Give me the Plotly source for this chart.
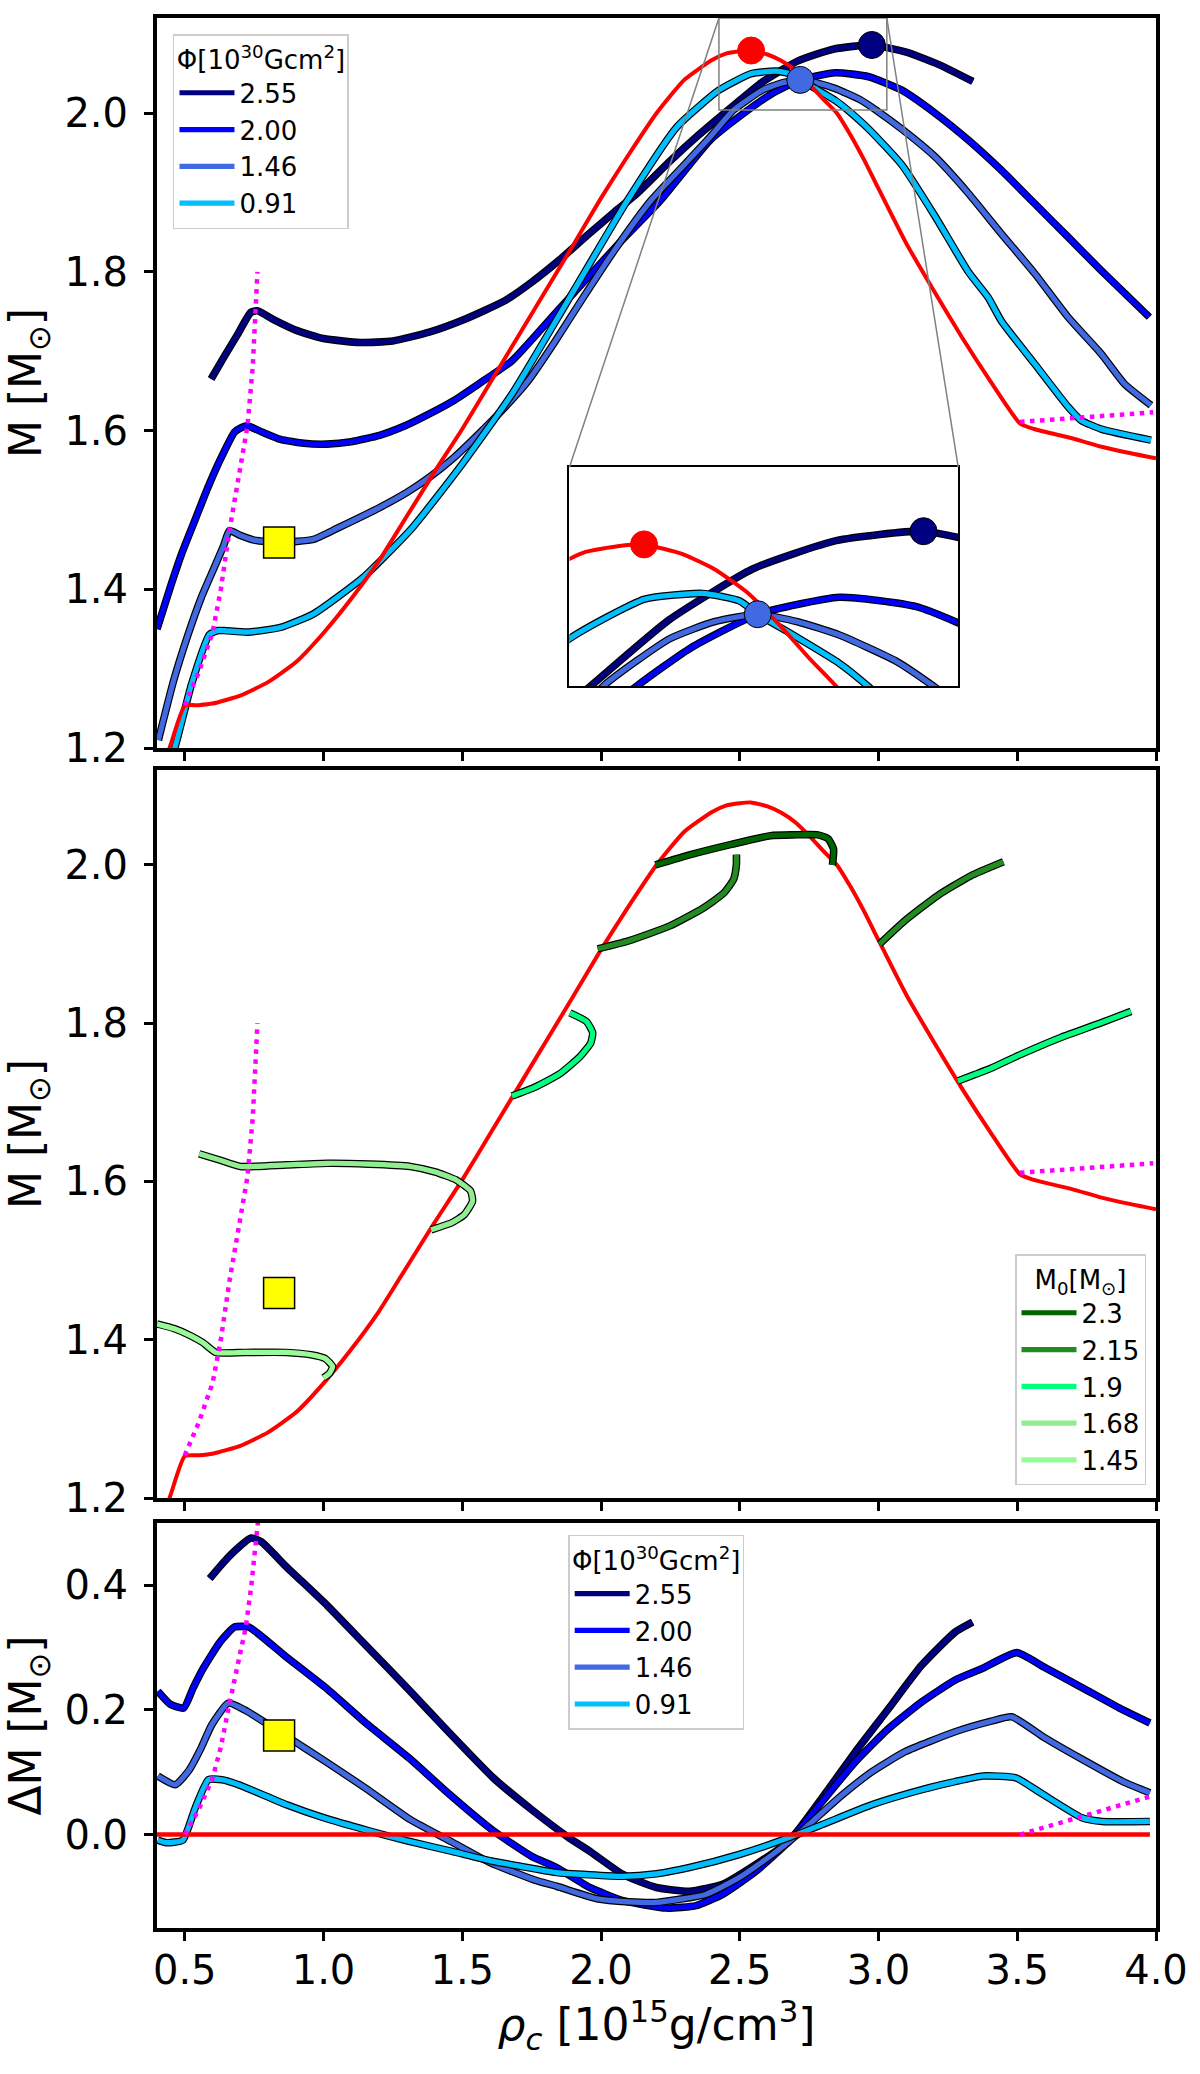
import plotly.graph_objects as go

# ---------------- data ----------------
# non-magnetised sequence (Phi = 0)
red_x = [0.43, 0.45, 0.50, 0.55, 0.60, 0.70, 0.80, 0.90, 1.00, 1.10, 1.20, 1.30, 1.40, 1.50, 1.60,
         1.70, 1.80, 1.90, 2.00, 2.10, 2.20, 2.30, 2.40, 2.45, 2.50, 2.54, 2.60, 2.65, 2.70, 2.75,
         2.80, 2.85, 2.90, 2.95, 3.00, 3.10, 3.20, 3.30, 3.40, 3.51, 3.56, 3.70, 3.80, 3.90, 4.00]
red_y = [1.185, 1.205, 1.253, 1.254, 1.256, 1.266, 1.283, 1.308, 1.345, 1.388, 1.436, 1.492, 1.548,
         1.602, 1.660, 1.718, 1.776, 1.834, 1.893, 1.948, 2.000, 2.042, 2.067, 2.075, 2.078, 2.079,
         2.074, 2.066, 2.054, 2.037, 2.018, 2.000, 1.972, 1.940, 1.905, 1.836, 1.776, 1.718, 1.664,
         1.609, 1.602, 1.590, 1.580, 1.572, 1.565]

# magnetised sequences, M vs rho_c
phi_labels = ["2.55", "2.00", "1.46", "0.91"]
phi_colors = ["#000080", "#0000FF", "#4169E1", "#00BFFF"]

m_255_x = [0.595, 0.64, 0.69, 0.738, 0.762, 0.82, 0.905, 1.0, 1.131, 1.25, 1.381, 1.5, 1.655, 1.75,
           1.85, 1.95, 2.05, 2.13, 2.25, 2.35, 2.465, 2.58, 2.71, 2.84, 2.976, 3.1, 3.17, 3.226, 3.34]
m_255_y = [1.665, 1.692, 1.721, 1.749, 1.751, 1.740, 1.726, 1.716, 1.711, 1.713, 1.724, 1.739, 1.764,
           1.787, 1.815, 1.846, 1.876, 1.899, 1.940, 1.972, 2.006, 2.039, 2.066, 2.081, 2.086, 2.077,
           2.068, 2.060, 2.040]

m_200_x = [0.40, 0.45, 0.488, 0.54, 0.583, 0.63, 0.679, 0.705, 0.726, 0.78, 0.845, 0.93, 1.012, 1.1,
           1.202, 1.3, 1.381, 1.47, 1.56, 1.679, 1.833, 1.95, 2.07, 2.214, 2.393, 2.53, 2.613, 2.718,
           2.845, 2.965, 3.084, 3.204, 3.324, 3.443, 3.563, 3.683, 3.802, 3.976]
m_200_y = [1.35, 1.405, 1.444, 1.490, 1.528, 1.565, 1.598, 1.604, 1.606, 1.598, 1.589, 1.584, 1.583,
           1.586, 1.594, 1.607, 1.621, 1.638, 1.659, 1.688, 1.747, 1.792, 1.838, 1.890, 1.966, 2.004,
           2.024, 2.042, 2.051, 2.046, 2.029, 2.000, 1.966, 1.928, 1.886, 1.844, 1.802, 1.743]

m_146_x = [0.405, 0.46, 0.512, 0.56, 0.607, 0.64, 0.661, 0.70, 0.75, 0.845, 0.964, 1.05, 1.202, 1.3,
           1.381, 1.47, 1.56, 1.65, 1.738, 1.83, 1.929, 2.05, 2.18, 2.3, 2.393, 2.478, 2.581, 2.65,
           2.718, 2.78, 2.845, 2.934, 2.991, 3.084, 3.204, 3.324, 3.443, 3.563, 3.683, 3.802, 3.886,
           3.982]
m_146_y = [1.21, 1.285, 1.343, 1.390, 1.428, 1.455, 1.474, 1.468, 1.462, 1.459, 1.463, 1.477, 1.503,
           1.522, 1.541, 1.566, 1.596, 1.628, 1.663, 1.710, 1.764, 1.828, 1.890, 1.935, 1.970, 2.004,
           2.029, 2.038, 2.042, 2.038, 2.031, 2.017, 2.004, 1.980, 1.945, 1.899, 1.848, 1.798, 1.743,
           1.697, 1.659, 1.632]

m_091_x = [0.43, 0.464, 0.524, 0.589, 0.62, 0.643, 0.726, 0.845, 0.964, 1.143, 1.321, 1.5, 1.679,
           1.881, 2.095, 2.274, 2.425, 2.542, 2.632, 2.69, 2.718, 2.773, 2.845, 2.889, 2.965, 3.084,
           3.204, 3.324, 3.395, 3.443, 3.563, 3.683, 3.73, 3.802, 3.982]
m_091_y = [1.17, 1.20, 1.28, 1.343, 1.348, 1.348, 1.346, 1.352, 1.369, 1.415, 1.478, 1.558, 1.646,
           1.764, 1.890, 1.983, 2.029, 2.050, 2.053, 2.049, 2.042, 2.031, 2.016, 2.004, 1.980, 1.935,
           1.870, 1.800, 1.768, 1.738, 1.684, 1.630, 1.613, 1.602, 1.588]

# maximum-mass markers
peak_x = [2.541, 2.976, 2.718]
peak_y = [2.079, 2.086, 2.042]
peak_colors = ["#FF0000", "#000080", "#4169E1"]

# onset line (magenta dotted)
mag_m_x = [0.50, 0.55, 0.60, 0.63, 0.661, 0.69, 0.726, 0.745, 0.755, 0.762]
mag_m_y = [1.254, 1.295, 1.345, 1.40, 1.474, 1.535, 1.606, 1.68, 1.75, 1.80]
mag_m_right_x = [3.51, 3.99]
mag_m_right_y = [1.611, 1.623]

# yellow square
sq_x = [0.84]
sq_m = [1.459]
sq_dm = [0.159]

# constant baryonic mass tracks (middle panel)
m0_labels = ["2.3", "2.15", "1.9", "1.68", "1.45"]
m0_colors = ["#006400", "#228B22", "#00FF7F", "#90EE90", "#98FB98"]

m0_230_x = [2.196, 2.322, 2.47, 2.611, 2.693, 2.782, 2.819, 2.838, 2.834]
m0_230_y = [2.000, 2.013, 2.026, 2.037, 2.038, 2.038, 2.033, 2.020, 2.000]
m0_215a_x = [1.988, 2.099, 2.248, 2.366, 2.441, 2.478, 2.488, 2.488]
m0_215a_y = [1.894, 1.904, 1.923, 1.945, 1.964, 1.982, 2.001, 2.013]
m0_215b_x = [3.004, 3.093, 3.212, 3.331, 3.45]
m0_215b_y = [1.900, 1.929, 1.961, 1.986, 2.004]
m0_190a_x = [1.679, 1.761, 1.851, 1.925, 1.963, 1.970, 1.948, 1.888]
m0_190a_y = [1.708, 1.719, 1.736, 1.758, 1.775, 1.788, 1.802, 1.813]
m0_190b_x = [3.286, 3.346, 3.405, 3.509, 3.657, 3.806, 3.91]
m0_190b_y = [1.727, 1.735, 1.743, 1.760, 1.782, 1.801, 1.815]
m0_168_x = [0.552, 0.627, 0.701, 0.866, 1.015, 1.164, 1.313, 1.403, 1.478, 1.53, 1.537, 1.507,
            1.463, 1.388]
m0_168_y = [1.635, 1.627, 1.619, 1.621, 1.623, 1.622, 1.619, 1.612, 1.602, 1.588, 1.575, 1.558,
            1.548, 1.539]
m0_145_x = [0.40, 0.463, 0.522, 0.567, 0.612, 0.716, 0.866, 0.955, 1.007, 1.033, 1.022, 1.0]
m0_145_y = [1.420, 1.414, 1.405, 1.396, 1.384, 1.384, 1.384, 1.381, 1.376, 1.366, 1.358, 1.352]

# mass difference to the Phi = 0 sequence (bottom panel)
dm_zero_x = [0.40, 3.978]
dm_zero_y = [0.0, 0.0]

dm_255_x = [0.59, 0.63, 0.672, 0.739, 0.776, 0.866, 1.015, 1.15, 1.313, 1.45, 1.612, 1.75, 1.881,
            1.96, 2.079, 2.199, 2.319, 2.438, 2.558, 2.677, 2.797, 2.917, 3.036, 3.156, 3.276, 3.339]
dm_255_y = [0.411, 0.432, 0.452, 0.476, 0.470, 0.430, 0.367, 0.305, 0.230, 0.165, 0.091, 0.040,
            -0.004, -0.027, -0.064, -0.085, -0.091, -0.080, -0.048, -0.011, 0.059, 0.133, 0.202,
            0.272, 0.325, 0.341]

dm_200_x = [0.403, 0.448, 0.496, 0.53, 0.567, 0.627, 0.679, 0.731, 0.866, 1.015, 1.15, 1.313, 1.45,
            1.612, 1.75, 1.84, 1.96, 2.079, 2.235, 2.343, 2.438, 2.558, 2.677, 2.797, 2.917, 3.036,
            3.156, 3.276, 3.376, 3.498, 3.6, 3.733, 3.881, 3.978]
dm_200_y = [0.230, 0.209, 0.203, 0.235, 0.267, 0.309, 0.333, 0.333, 0.285, 0.233, 0.180, 0.121,
            0.066, 0.006, -0.035, -0.053, -0.085, -0.106, -0.118, -0.114, -0.096, -0.059, -0.011,
            0.053, 0.117, 0.170, 0.213, 0.248, 0.267, 0.292, 0.268, 0.236, 0.200, 0.179]

dm_146_x = [0.403, 0.466, 0.515, 0.56, 0.597, 0.657, 0.716, 0.866, 1.015, 1.15, 1.313, 1.463, 1.6,
            1.761, 1.84, 1.985, 2.1, 2.199, 2.378, 2.498, 2.618, 2.737, 2.857, 2.977, 3.096, 3.276,
            3.406, 3.48, 3.6, 3.733, 3.881, 3.978]
dm_146_y = [0.094, 0.080, 0.103, 0.140, 0.176, 0.211, 0.200, 0.158, 0.115, 0.075, 0.024, -0.012,
            -0.045, -0.073, -0.083, -0.103, -0.108, -0.109, -0.096, -0.069, -0.032, 0.011, 0.059,
            0.101, 0.133, 0.165, 0.182, 0.189, 0.155, 0.121, 0.085, 0.067]

dm_091_x = [0.403, 0.433, 0.493, 0.537, 0.585, 0.634, 0.70, 0.866, 1.0, 1.164, 1.3, 1.463, 1.6,
            1.761, 1.84, 2.079, 2.2, 2.319, 2.498, 2.677, 2.797, 2.977, 3.156, 3.276, 3.376, 3.495,
            3.584, 3.733, 3.807, 3.978]
dm_091_y = [-0.009, -0.013, -0.009, 0.042, 0.088, 0.088, 0.079, 0.048, 0.027, 0.006, -0.010, -0.027,
            -0.042, -0.055, -0.061, -0.067, -0.063, -0.053, -0.032, -0.005, 0.016, 0.048, 0.072,
            0.085, 0.094, 0.091, 0.067, 0.027, 0.021, 0.021]

mag_dm_x = [0.50, 0.55, 0.60, 0.63, 0.661, 0.69, 0.72, 0.74, 0.755, 0.768]
mag_dm_y = [0.0, 0.040, 0.090, 0.140, 0.210, 0.270, 0.333, 0.400, 0.460, 0.520]
mag_dm_right_x = [3.51, 3.978]
mag_dm_right_y = [0.0, 0.061]

# ---------------- geometry ----------------
X_RANGE = [0.4, 4.0]
X_DOMAIN = [0.0, 1.0]
Y1_RANGE = [1.2, 2.12]
Y1_DOMAIN = [0.6178, 1.0]
Y2_DOMAIN = [0.2251, 0.6063]
Y3_RANGE = [-0.15, 0.5]
Y3_DOMAIN = [0.0, 0.2120]
INSET_X = [2.425, 3.03]
INSET_Y = [2.004, 2.12]
INSET_XDOM = [0.4129, 0.802]
INSET_YDOM = [0.6503, 0.7649]

SMOOTH = 0.5
fig = go.Figure()


def outlined(x, y, color, xa, ya, name=None, legend=None, width=5.2):
    fig.add_trace(go.Scatter(
        x=x, y=y, mode="lines", xaxis=xa, yaxis=ya,
        line=dict(color="black", width=width + 2.4, shape="spline", smoothing=SMOOTH),
        showlegend=False, hoverinfo="skip"))
    fig.add_trace(go.Scatter(
        x=x, y=y, mode="lines", xaxis=xa, yaxis=ya, name=name,
        line=dict(color=color, width=width, shape="spline", smoothing=SMOOTH),
        showlegend=legend is not None, legend=legend if legend else "legend"))


def plain(x, y, color, xa, ya, width=4.0, dash=None):
    fig.add_trace(go.Scatter(
        x=x, y=y, mode="lines", xaxis=xa, yaxis=ya,
        line=dict(color=color, width=width, dash=dash,
                  shape="linear" if dash else "spline", smoothing=SMOOTH),
        showlegend=False, hoverinfo="skip"))


def square(x, y, xa, ya):
    fig.add_trace(go.Scatter(
        x=x, y=y, mode="markers", xaxis=xa, yaxis=ya, showlegend=False,
        marker=dict(symbol="square", size=31, color="yellow", line=dict(color="black", width=1.5))))


mag_dash = "4.5px,5.5px"
m_series = [(m_255_x, m_255_y), (m_200_x, m_200_y), (m_146_x, m_146_y), (m_091_x, m_091_y)]
dm_series = [(dm_255_x, dm_255_y), (dm_200_x, dm_200_y), (dm_146_x, dm_146_y), (dm_091_x, dm_091_y)]

# ---- top panel ----
for (sx, sy), c, lab in zip(m_series, phi_colors, phi_labels):
    outlined(sx, sy, c, "x", "y", name=lab, legend="legend")
plain(red_x, red_y, "#FF0000", "x", "y")
plain(mag_m_x, mag_m_y, "#FF00FF", "x", "y", width=4.5, dash=mag_dash)
plain(mag_m_right_x, mag_m_right_y, "#FF00FF", "x", "y", width=4.5, dash=mag_dash)
square(sq_x, sq_m, "x", "y")

# ---- inset ----
for (sx, sy), c in zip(m_series, phi_colors):
    outlined(sx, sy, c, "x4", "y4")
plain(red_x, red_y, "#FF0000", "x4", "y4")

for xa, ya in [("x", "y"), ("x4", "y4")]:
    fig.add_trace(go.Scatter(
        x=peak_x, y=peak_y, mode="markers", xaxis=xa, yaxis=ya, showlegend=False,
        marker=dict(size=27, color=peak_colors,
                    line=dict(color=["#FF0000", "black", "black"], width=1))))

# ---- middle panel ----
plain(red_x, red_y, "#FF0000", "x2", "y2")
m0_tracks = [
    [(m0_230_x, m0_230_y)],
    [(m0_215a_x, m0_215a_y), (m0_215b_x, m0_215b_y)],
    [(m0_190a_x, m0_190a_y), (m0_190b_x, m0_190b_y)],
    [(m0_168_x, m0_168_y)],
    [(m0_145_x, m0_145_y)],
]
for branches, c, lab in zip(m0_tracks, m0_colors, m0_labels):
    for k, (bx, by) in enumerate(branches):
        outlined(bx, by, c, "x2", "y2", name=lab, legend="legend2" if k == 0 else None)
plain(mag_m_x, mag_m_y, "#FF00FF", "x2", "y2", width=4.5, dash=mag_dash)
plain(mag_m_right_x, mag_m_right_y, "#FF00FF", "x2", "y2", width=4.5, dash=mag_dash)
square(sq_x, sq_m, "x2", "y2")

# ---- bottom panel ----
for (sx, sy), c, lab in zip(dm_series, phi_colors, phi_labels):
    outlined(sx, sy, c, "x3", "y3", name=lab, legend="legend3")
plain(dm_zero_x, dm_zero_y, "#FF0000", "x3", "y3", width=4.5)
plain(mag_dm_x, mag_dm_y, "#FF00FF", "x3", "y3", width=4.5, dash=mag_dash)
plain(mag_dm_right_x, mag_dm_right_y, "#FF00FF", "x3", "y3", width=4.5, dash=mag_dash)
square(sq_x, sq_dm, "x3", "y3")

# ---------------- layout ----------------
frame = dict(showline=True, linewidth=4, linecolor="black", mirror=True, showgrid=False,
             zeroline=False, ticks="outside", ticklen=9, tickwidth=3, tickcolor="black")
xcommon = dict(frame, range=X_RANGE, domain=X_DOMAIN, tick0=0.5, dtick=0.5, tickformat=".1f")
ycommon = dict(frame, tickformat=".1f", ticklabelstandoff=8)
title_font = dict(size=44)
inset_ax = dict(showline=True, linewidth=1.5, linecolor="black", mirror=True, showgrid=False,
                zeroline=False, ticks="", showticklabels=False)

legend_style = dict(bgcolor="rgba(255,255,255,0.85)", bordercolor="#cccccc", borderwidth=1.5,
                    font=dict(size=26), itemwidth=55)
phi_title = dict(text="Φ[10<sup>30</sup>Gcm<sup>2</sup>]", font=dict(size=26), side="top center")


def px(v):
    return X_DOMAIN[0] + (v - X_RANGE[0]) / (X_RANGE[1] - X_RANGE[0]) * (X_DOMAIN[1] - X_DOMAIN[0])


def py1(v):
    return Y1_DOMAIN[0] + (v - Y1_RANGE[0]) / (Y1_RANGE[1] - Y1_RANGE[0]) * (Y1_DOMAIN[1] - Y1_DOMAIN[0])


grey = dict(color="#808080", width=1.5)
shapes = [
    dict(type="rect", xref="x", yref="y", x0=INSET_X[0], x1=INSET_X[1], y0=INSET_Y[0],
         y1=INSET_Y[1], line=grey),
    dict(type="line", xref="paper", yref="paper", x0=px(INSET_X[0]), y0=py1(INSET_Y[1]),
         x1=INSET_XDOM[0], y1=INSET_YDOM[1], line=grey),
    dict(type="line", xref="paper", yref="paper", x0=px(INSET_X[1]), y0=py1(INSET_Y[1]),
         x1=INSET_XDOM[1], y1=INSET_YDOM[1], line=grey),
]

fig.update_layout(
    width=1200, height=2074,
    margin=dict(l=157, r=36, t=18, b=146),
    plot_bgcolor="white", paper_bgcolor="white",
    font=dict(family="DejaVu Sans", size=40, color="black"),
    xaxis=dict(xcommon, anchor="y", showticklabels=False),
    yaxis=dict(ycommon, domain=Y1_DOMAIN, range=Y1_RANGE, tick0=1.2, dtick=0.2, anchor="x",
               title=dict(text="M [M<sub>⊙</sub>]", font=title_font, standoff=18)),
    xaxis2=dict(xcommon, anchor="y2", showticklabels=False),
    yaxis2=dict(ycommon, domain=Y2_DOMAIN, range=Y1_RANGE, tick0=1.2, dtick=0.2, anchor="x2",
                title=dict(text="M [M<sub>⊙</sub>]", font=title_font, standoff=18)),
    xaxis3=dict(xcommon, anchor="y3", ticklabelstandoff=-5,
                title=dict(text="<i>ρ<sub>c</sub></i> [10<sup>15</sup>g/cm<sup>3</sup>]",
                           font=title_font, standoff=12)),
    yaxis3=dict(ycommon, domain=Y3_DOMAIN, range=Y3_RANGE, tick0=0.0, dtick=0.2, anchor="x3",
                title=dict(text="ΔM [M<sub>⊙</sub>]", font=title_font, standoff=18)),
    xaxis4=dict(inset_ax, domain=INSET_XDOM, range=INSET_X, anchor="y4"),
    yaxis4=dict(inset_ax, domain=INSET_YDOM, range=INSET_Y, anchor="x4"),
    legend=dict(legend_style, x=0.016, y=0.9916, xanchor="left", yanchor="top", title=phi_title),
    legend2=dict(legend_style, x=0.990, y=0.2319, xanchor="right", yanchor="bottom",
                 title=dict(text="M<sub>0</sub>[M<sub>⊙</sub>]", font=dict(size=26),
                            side="top center")),
    legend3=dict(legend_style, x=0.4116, y=0.2058, xanchor="left", yanchor="top", title=phi_title),
    shapes=shapes,
    showlegend=True,
)

# the page body has a default 8px margin; remove it so the figure sits at the window origin
fig.write_html("out.html", config={"displayModeBar": False},
               post_script="document.body.style.margin='0px';")
